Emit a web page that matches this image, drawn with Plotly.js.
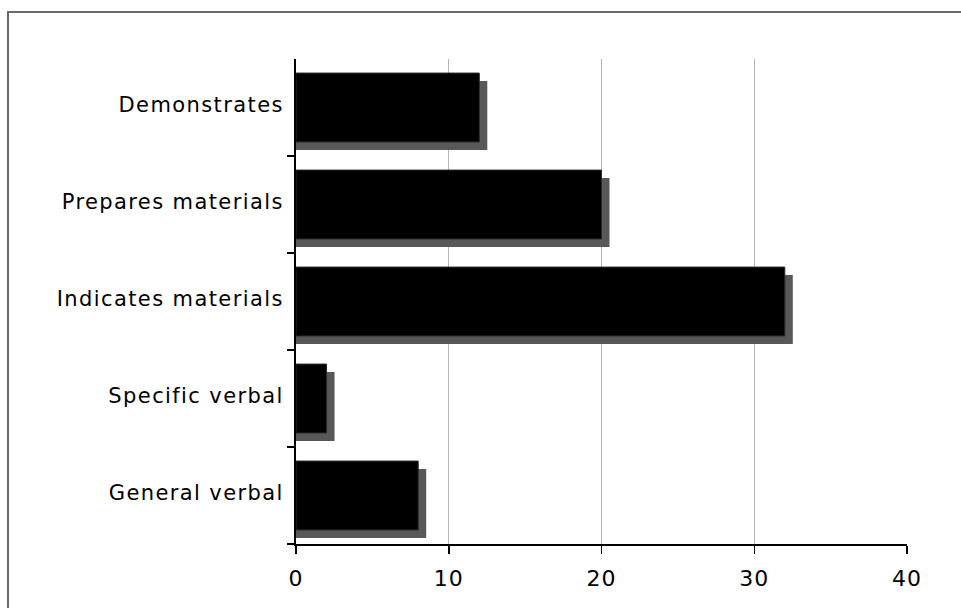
<!DOCTYPE html>
<html>
<head>
<meta charset="utf-8">
<script src="https://cdn.plot.ly/plotly-3.0.1.min.js"></script>
<style>
  html, body { margin: 0; padding: 0; background: #ffffff; }
  #chart { width: 961px; height: 608px; }
  .ytick text { letter-spacing: 1.4px; }
  .xtick text { letter-spacing: 1px; }
</style>
</head>
<body>
<div id="chart"></div>
<script>
// Categories listed top to bottom
const categories = [
  'Demonstrates',
  'Prepares materials',
  'Indicates materials',
  'Specific verbal',
  'General verbal'
];
const counts = [12, 20, 32, 2, 8];
const xTickValues = [0, 10, 20, 30, 40];
const xTickLabels = ['0', '10', '20', '30', '40'];
// category separators (tick marks between bars, none at the top edge)
const separatorPositions = [0.5, 1.5, 2.5, 3.5, 4.5];

// Plot frame in pixels, used to turn the drop-shadow offset into axis units
const W = 961, H = 608;
const M = { l: 296, r: 54, t: 59, b: 64 };
const plotW = W - M.l - M.r;
const plotH = H - M.t - M.b;
const xMax = 40;
const shadowPx = 8;
const barWidth = 0.71;
const dx = shadowPx * xMax / plotW;                 // horizontal shift, data units
const dy = shadowPx * categories.length / plotH;     // vertical shift, category units

const shadow = {
  type: 'bar',
  orientation: 'h',
  y: categories,
  x: counts.map(v => v + dx),
  base: 0,
  width: barWidth,
  offset: -barWidth / 2 + dy,
  marker: { color: '#585858', line: { width: 0 } },
  hoverinfo: 'skip',
  showlegend: false
};

const bars = {
  type: 'bar',
  orientation: 'h',
  y: categories,
  x: counts,
  width: barWidth,
  marker: { color: '#000000', line: { color: '#2a2a2a', width: 1 } },
  showlegend: false
};

const layout = {
  width: W,
  height: H,
  margin: M,
  paper_bgcolor: '#ffffff',
  plot_bgcolor: '#ffffff',
  barmode: 'overlay',
  font: { family: 'DejaVu Sans, Verdana, sans-serif', color: '#000000' },
  xaxis: {
    range: [0, xMax],
    tickvals: xTickValues,
    ticktext: xTickLabels,
    showgrid: true,
    gridcolor: '#b4b4b4',
    gridwidth: 1,
    zeroline: false,
    showline: true,
    linecolor: '#000000',
    linewidth: 2,
    ticks: 'outside',
    ticklen: 8,
    tickwidth: 1.5,
    tickcolor: '#000000',
    tickfont: { size: 22, color: '#000000' },
    ticklabelstandoff: 6,
    fixedrange: true
  },
  yaxis: {
    type: 'category',
    categoryorder: 'array',
    categoryarray: categories,
    range: [categories.length - 0.5, -0.5],
    showgrid: false,
    zeroline: false,
    showline: true,
    linecolor: '#000000',
    linewidth: 2,
    ticks: '',
    tickfont: { size: 21, color: '#000000' },
    ticklabelstandoff: 6,
    ticklabelshift: 3,
    fixedrange: true
  },
  yaxis2: {
    overlaying: 'y',
    side: 'left',
    range: [categories.length - 0.5, -0.5],
    tickvals: separatorPositions,
    showticklabels: false,
    showgrid: false,
    zeroline: false,
    showline: false,
    ticks: 'outside',
    ticklen: 8,
    tickwidth: 1.5,
    tickcolor: '#000000',
    fixedrange: true
  },
  shapes: [
    {
      // outer chart frame
      type: 'rect',
      xref: 'paper', yref: 'paper',
      x0: (8 - M.l) / plotW,
      x1: (W + 10 - M.l) / plotW,
      y0: -(H + 10 - (H - M.b)) / plotH,
      y1: (H - M.b - 12) / plotH,
      line: { color: '#6a6a6a', width: 2 },
      fillcolor: 'rgba(0,0,0,0)',
      layer: 'below'
    }
  ]
};

// invisible trace that anchors the separator axis
const separatorAnchor = {
  type: 'scatter',
  mode: 'none',
  x: [0],
  y: [separatorPositions[0]],
  yaxis: 'y2',
  hoverinfo: 'skip',
  showlegend: false
};

Plotly.newPlot('chart', [shadow, bars, separatorAnchor], layout, { displayModeBar: false, staticPlot: true });
</script>
</body>
</html>
